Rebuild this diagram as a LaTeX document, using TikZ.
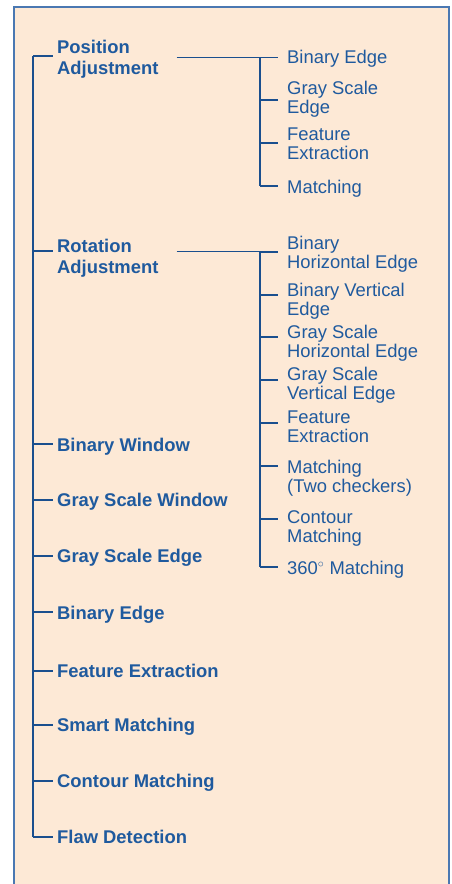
\documentclass[tikz,border=0pt]{standalone}
\usepackage{fontspec}
\setmainfont{Liberation Sans}
\usetikzlibrary{calc}
\definecolor{paper}{HTML}{FDE9D6}
\definecolor{ink}{HTML}{1F5A9E}
\definecolor{rule}{HTML}{1A4F8E}
\definecolor{frame}{HTML}{4A78B2}

\begin{document}
\begin{tikzpicture}[x=1pt, y=-1pt,
  link/.style={draw=rule, line width=1.3pt},
  topic/.style={anchor=west, align=left, text=ink, inner xsep=4.3pt, inner ysep=0pt,
    font=\fontsize{18.4pt}{21pt}\selectfont\bfseries},
  subtopic/.style={anchor=west, align=left, text=ink, inner xsep=9pt, inner ysep=0pt,
    font=\fontsize{18.4pt}{19pt}\selectfont}]
  \useasboundingbox (0,0) rectangle (452,884);
  % ---- panel ----
  \fill[paper] (14,6.7) rectangle (449,884);
  \draw[frame, line width=1.8pt] (14,884) -- (14,6.7) -- (449,6.7) -- (449,884);
  % ---- main list ----
  \coordinate (trunk) at (33,56);
  \coordinate (trunkend) at (33,837);
  \draw[link] (trunk) -- (trunkend);
  \foreach \n/\t/\c/\ty in {pos/{Position\\Adjustment}/59.5/56,
      rot/{Rotation\\Adjustment}/258.4/251,
      bwin/{Binary Window}/447/444,
      gwin/{Gray Scale Window}/502/500,
      gedge/{Gray Scale Edge}/558/556,
      bedge/{Binary Edge}/615/612,
      feat/{Feature Extraction}/671/671,
      smart/{Smart Matching}/727/725,
      cont/{Contour Matching}/783/781,
      flaw/{Flaw Detection}/837/837} {
    \node[topic] (\n) at (52.7,\c) {\t};
    \draw[link] (trunk |- 0,\ty) -- (\n.west |- 0,\ty);
  }
  % ---- position adjustment ----
  \coordinate (ptrunk) at (260,57.7);
  \coordinate (ptrunkend) at (260,186);
  \draw[link, shorten <=13.6pt] (pos.east |- ptrunk) -- (ptrunk);
  \draw[link] (ptrunk) -- (ptrunkend);
  \foreach \n/\t/\c/\ty in {pbe/{Binary Edge}/59/57.7,
      pgs/{Gray Scale\\Edge}/99.5/100,
      pfe/{Feature\\Extraction}/144/143,
      pm/{Matching}/189/186} {
    \node[subtopic] (\n) at (278,\c) {\t};
    \draw[link] (ptrunk |- 0,\ty) -- (\n.west |- 0,\ty);
  }
  % ---- rotation adjustment ----
  \coordinate (rtrunk) at (260,251.5);
  \coordinate (rtrunkend) at (260,567);
  \draw[link, shorten <=13.6pt] (rot.east |- rtrunk) -- (rtrunk);
  \draw[link] (rtrunk) -- (rtrunkend);
  \foreach \n/\t/\c/\ty in {rbh/{Binary\\Horizontal Edge}/254.5/252,
      rbv/{Binary Vertical\\Edge}/301/295,
      rgh/{Gray Scale\\Horizontal Edge}/343/337,
      rgv/{Gray Scale\\Vertical Edge}/385.5/380,
      rfe/{Feature\\Extraction}/426.3/423,
      rm/{Matching\\(Two checkers)}/478.5/466,
      rc/{Contour\\Matching}/528.5/519,
      rdeg/{360$^{\circ}$ Matching}/569.5/567} {
    \node[subtopic] (\n) at (278,\c) {\t};
    \draw[link] (rtrunk |- 0,\ty) -- (\n.west |- 0,\ty);
  }
\end{tikzpicture}
\end{document}
